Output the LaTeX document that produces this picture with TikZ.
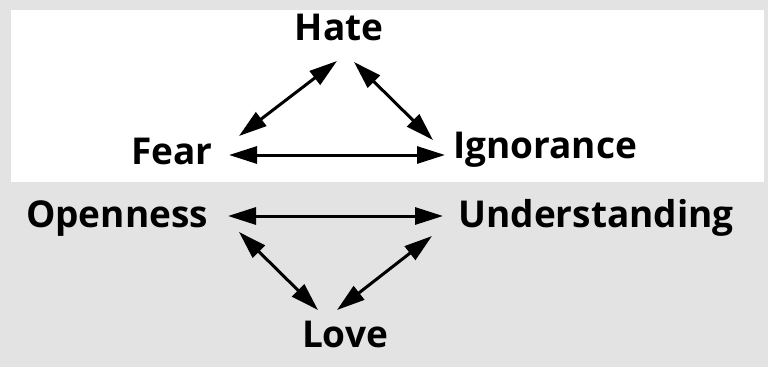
\documentclass[tikz,border=0pt]{standalone}
\usepackage{fontspec}
\setmainfont{Open Sans}
\usepackage{xcolor}
\usetikzlibrary{arrows.meta}
\definecolor{panelgray}{HTML}{E3E3E3}

\begin{document}
\begin{tikzpicture}[
    x=1pt, y=-1pt,
    every node/.style={inner sep=0pt, anchor=base, font=\fontsize{37}{42}\selectfont\bfseries},
    link/.style={{Triangle[length=28pt,width=17pt]}-{Triangle[length=28pt,width=17pt]}, line width=3pt}
]
% panels
\fill[panelgray] (0,0) rectangle (768,367);
\fill[white] (11,10) rectangle (764,182);
\useasboundingbox (0,0) rectangle (768,367);

\node (hate) at (339,40) {Hate};
\node (fear) at (172,164) {Fear};
\node (ignorance) at (545,158) {Ignorance};
\node (openness) at (117,227) {Openness};
\node (understanding) at (596,227) {Understanding};
\node (love) at (345,347) {Love};

\draw[link] ([shift={(-2,21)}]hate.base) -- ([shift={(67,-28)}]fear.base);
\draw[link] ([shift={(15,22)}]hate.base) -- ([shift={(-112,-18)}]ignorance.base);
\draw[link] ([shift={(57,-9)}]fear.base) -- ([shift={(-100,-3)}]ignorance.base);
\draw[link] ([shift={(111,-11)}]openness.base) -- ([shift={(-153,-11)}]understanding.base);
\draw[link] ([shift={(122,5)}]openness.base) -- ([shift={(-27,-37)}]love.base);
\draw[link] ([shift={(-164,9)}]understanding.base) -- ([shift={(-8,-37)}]love.base);
\end{tikzpicture}
\end{document}
